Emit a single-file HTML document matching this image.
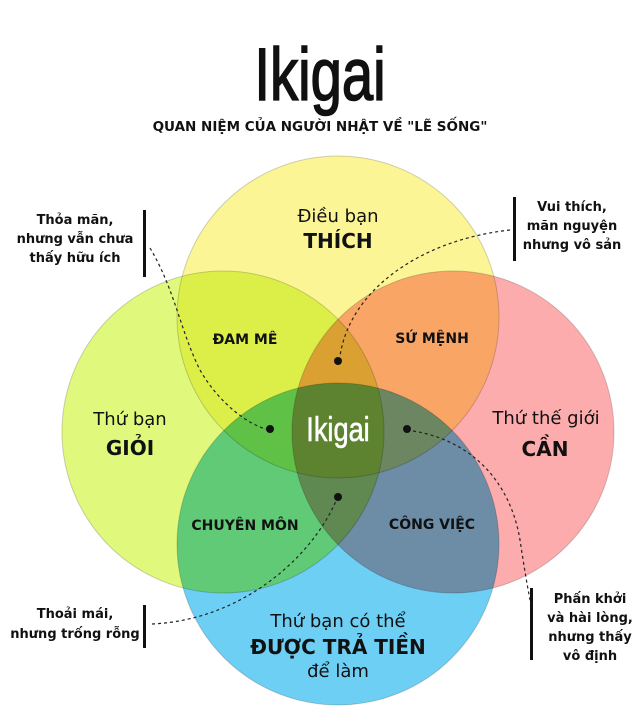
<!DOCTYPE html>
<html><head><meta charset="utf-8"><style>
html,body{margin:0;padding:0;background:#fff;width:640px;height:713px;overflow:hidden}
svg{display:block}
text{font-family:"DejaVu Sans","Liberation Sans",sans-serif;fill:#111}
</style></head><body>
<svg width="640" height="713" viewBox="0 0 640 713" xmlns="http://www.w3.org/2000/svg">
<rect width="640" height="713" fill="#fff"/>
<text x="320" y="100" text-anchor="middle" font-size="74" stroke="#111" stroke-width="1.6" transform="translate(320 0) scale(0.76 1) translate(-320 0)" style="font-family:'Liberation Sans Narrow','Liberation Sans',sans-serif">Ikigai</text>
<text x="320" y="131" text-anchor="middle" font-size="13.5" font-weight="bold">QUAN NIỆM CỦA NGƯỜI NHẬT VỀ "LẼ SỐNG"</text>
<g style="isolation:isolate">
<circle cx="338" cy="317" r="161" fill="#fbf595"/>
<circle cx="223" cy="432" r="161" fill="#e0f97c" style="mix-blend-mode:multiply"/>
<circle cx="453" cy="432" r="161" fill="#fdacad" style="mix-blend-mode:multiply"/>
<circle cx="338" cy="544" r="161" fill="#6ecff5" style="mix-blend-mode:multiply"/>
</g>
<g fill="none" stroke="rgba(0,0,0,0.18)" stroke-width="1">
<circle cx="338" cy="317" r="161"/><circle cx="223" cy="432" r="161"/>
<circle cx="453" cy="432" r="161"/><circle cx="338" cy="544" r="161"/>
</g>
<text x="338" y="222" text-anchor="middle" font-size="18">Điều bạn</text>
<text x="338" y="248" text-anchor="middle" font-size="20" font-weight="bold">THÍCH</text>
<text x="130" y="425" text-anchor="middle" font-size="18">Thứ bạn</text>
<text x="130" y="455" text-anchor="middle" font-size="20" font-weight="bold">GIỎI</text>
<text x="546" y="424" text-anchor="middle" font-size="18">Thứ thế giới</text>
<text x="545" y="456" text-anchor="middle" font-size="20" font-weight="bold">CẦN</text>
<text x="338" y="627" text-anchor="middle" font-size="18">Thứ bạn có thể</text>
<text x="338" y="654" text-anchor="middle" font-size="20" font-weight="bold">ĐƯỢC TRẢ TIỀN</text>
<text x="338" y="677" text-anchor="middle" font-size="18">để làm</text>
<g font-size="14" font-weight="bold" text-anchor="middle">
<text x="245" y="344">ĐAM MÊ</text>
<text x="432" y="343">SỨ MỆNH</text>
<text x="245" y="530">CHUYÊN MÔN</text>
<text x="432" y="529">CÔNG VIỆC</text>
</g>
<text x="338" y="441" text-anchor="middle" font-size="34" stroke="#fff" stroke-width="0.6" style="fill:#fff;font-family:'Liberation Sans Narrow','Liberation Sans',sans-serif" transform="translate(338 0) scale(0.8 1) translate(-338 0)">Ikigai</text>
<g fill="#111">
<circle cx="338" cy="361" r="4"/><circle cx="270" cy="429" r="4"/>
<circle cx="407" cy="429" r="4"/><circle cx="338" cy="497" r="4"/>
</g>
<g fill="none" stroke="#222" stroke-width="1.2" stroke-dasharray="3,3">
<path d="M150 248 C175 290 180 330 200 370 C220 405 250 425 266 429"/>
<path d="M510 230 C420 240 350 290 340 356"/>
<path d="M152 624 C240 620 310 560 336 501"/>
<path d="M413 431 C470 440 510 480 520 540 C526 580 530 600 532 610"/>
</g>
<g fill="#111">
<rect x="143" y="210" width="3" height="67"/>
<rect x="513" y="197" width="3" height="64"/>
<rect x="143" y="605" width="3" height="43"/>
<rect x="530" y="588" width="3" height="72"/>
</g>
<g font-size="13" font-weight="bold" text-anchor="middle">
<text x="75" y="224">Thỏa mãn,</text>
<text x="75" y="243">nhưng vẫn chưa</text>
<text x="75" y="262">thấy hữu ích</text>
<text x="572" y="211">Vui thích,</text>
<text x="572" y="230">mãn nguyện</text>
<text x="572" y="249">nhưng vô sản</text>
<text x="75" y="618">Thoải mái,</text>
<text x="75" y="638">nhưng trống rỗng</text>
<text x="590" y="603">Phấn khởi</text>
<text x="590" y="622">và hài lòng,</text>
<text x="590" y="641">nhưng thấy</text>
<text x="590" y="660">vô định</text>
</g>
</svg>
</body></html>
